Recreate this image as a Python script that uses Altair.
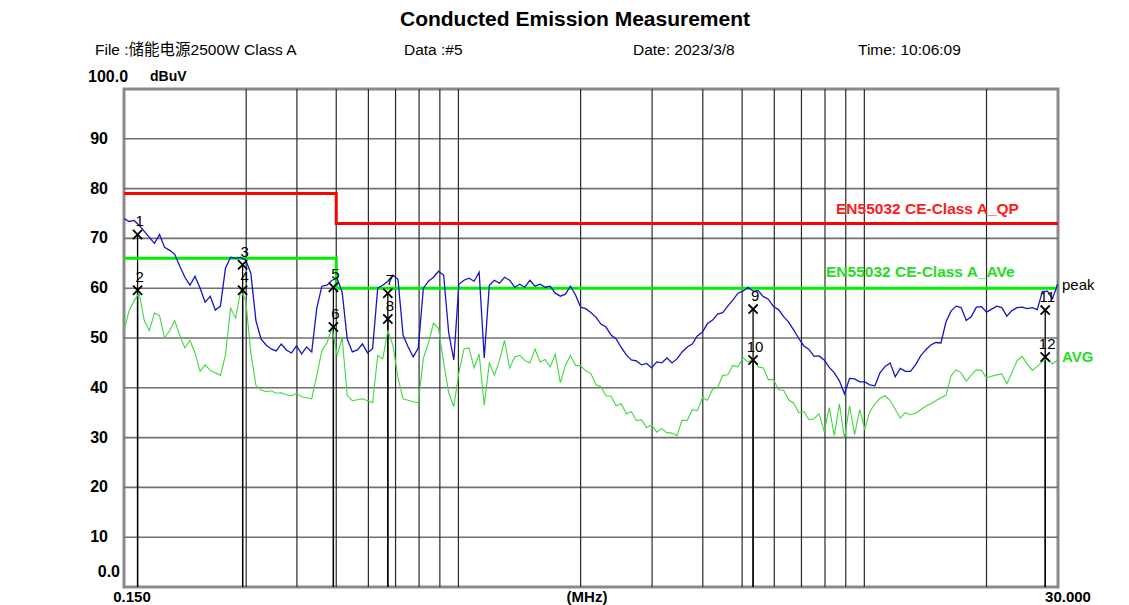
import altair as alt
import pandas as pd

# Sweep frequencies (MHz), log-spaced scan points
FREQ_MHZ = [
    0.1500, 0.1544, 0.1589, 0.1635, 0.1683, 0.1732, 0.1783, 0.1835, 0.1888, 0.1944,
    0.2000, 0.2059, 0.2119, 0.2181, 0.2244, 0.2310, 0.2377, 0.2447, 0.2518, 0.2592,
    0.2667, 0.2745, 0.2825, 0.2908, 0.2993, 0.3080, 0.3170, 0.3263, 0.3358, 0.3456,
    0.3557, 0.3661, 0.3768, 0.3878, 0.3991, 0.4108, 0.4228, 0.4351, 0.4478, 0.4609,
    0.4743, 0.4882, 0.5025, 0.5171, 0.5322, 0.5478, 0.5638, 0.5802, 0.5972, 0.6146,
    0.6326, 0.6510, 0.6700, 0.6896, 0.7097, 0.7305, 0.7518, 0.7737, 0.7963, 0.8196,
    0.8435, 0.8681, 0.8935, 0.9196, 0.9464, 0.9741, 1.0025, 1.0318, 1.0619, 1.0929,
    1.1248, 1.1577, 1.1915, 1.2263, 1.2621, 1.2989, 1.3369, 1.3759, 1.4161, 1.4574,
    1.500, 1.544, 1.589, 1.635, 1.683, 1.732, 1.783, 1.835, 1.888, 1.944,
    2.000, 2.059, 2.119, 2.181, 2.244, 2.310, 2.377, 2.447, 2.518, 2.592,
    2.667, 2.745, 2.825, 2.908, 2.993, 3.080, 3.170, 3.263, 3.358, 3.456,
    3.557, 3.661, 3.768, 3.878, 3.991, 4.108, 4.228, 4.351, 4.478, 4.609,
    4.743, 4.882, 5.025, 5.171, 5.322, 5.478, 5.638, 5.802, 5.972, 6.146,
    6.326, 6.510, 6.700, 6.896, 7.097, 7.305, 7.518, 7.737, 7.963, 8.196,
    8.435, 8.681, 8.935, 9.196, 9.464, 9.741, 10.025, 10.318, 10.619, 10.929,
    11.248, 11.577, 11.915, 12.263, 12.621, 12.989, 13.369, 13.759, 14.161, 14.574,
    15.00, 15.44, 15.89, 16.35, 16.83, 17.32, 17.83, 18.35, 18.88, 19.44,
    20.00, 20.59, 21.19, 21.81, 22.44, 23.10, 23.77, 24.47, 25.18, 25.92,
    26.67, 27.45, 28.25, 29.08, 29.93,
]

# Peak detector trace (dBuV)
PEAK_DBUV = [
    74.0, 73.4, 73.6, 72.6, 71.4, 70.2, 69.0, 70.8, 68.2, 67.6,
    66.8, 64.4, 62.2, 60.6, 62.4, 60.0, 57.2, 58.4, 55.6, 56.4,
    64.0, 66.2, 66.0, 66.2, 65.6, 63.0, 53.5, 49.8, 48.6, 47.8,
    47.4, 48.8, 47.6, 47.0, 48.4, 46.8, 48.2, 47.2, 56.0, 60.4,
    60.6, 61.6, 62.0, 59.2, 49.8, 47.2, 47.6, 48.8, 47.0, 47.9,
    60.0, 60.6, 61.4, 62.6, 61.8, 50.6, 48.2, 46.2, 48.0, 60.0,
    61.4, 62.2, 63.4, 62.6, 51.0, 45.6, 60.8, 61.6, 62.0, 61.4,
    63.2, 46.0, 60.6, 61.6, 61.0, 62.2, 61.6, 60.2, 60.8, 60.2,
    61.6, 60.4, 60.8, 60.2, 60.4, 59.0, 58.4, 58.8, 60.4, 58.6,
    56.2, 55.9, 55.1, 54.2, 52.8, 52.2, 50.6, 49.8, 48.1, 46.6,
    45.6, 45.4, 44.6, 44.9, 44.0, 45.2, 45.0, 46.0, 45.0, 45.8,
    47.2, 48.2, 48.8, 50.4, 51.2, 52.9, 53.6, 54.8, 55.1, 56.4,
    57.6, 59.0, 59.4, 60.2, 59.4, 59.5, 58.3, 57.8, 56.3, 55.7,
    54.3, 53.2, 51.6, 49.9, 48.4, 47.7, 46.3, 46.4, 45.6, 44.1,
    43.0, 41.4, 38.8, 41.9, 41.8, 41.2, 41.2, 40.6, 40.4, 43.0,
    44.3, 45.0, 42.2, 43.9, 43.3, 43.3, 44.6, 46.4, 47.6, 48.6,
    49.1, 49.0, 53.2, 55.4, 56.4, 56.1, 53.5, 54.3, 56.2, 56.3,
    55.2, 55.8, 56.4, 56.1, 54.4, 55.5, 56.1, 56.2, 55.9, 56.1,
    55.7, 59.3, 59.4, 57.9, 60.8,
]

# Average detector trace (dBuV)
AVG_DBUV = [
    51.5, 55.5, 57.5, 59.0, 53.5, 51.5, 55.0, 54.5, 50.0, 51.5,
    53.5, 50.5, 48.0, 49.5, 47.0, 43.3, 44.6, 43.5, 43.0, 42.5,
    46.5, 56.0, 54.0, 59.5, 57.5, 47.0, 40.5, 39.6, 39.2, 39.4,
    38.9, 39.0, 38.6, 38.4, 38.9, 38.2, 38.0, 37.8, 42.5, 47.5,
    49.0, 52.0, 46.5, 50.0, 38.5, 37.4, 37.6, 37.8, 37.4, 37.0,
    46.5, 45.8, 51.5, 48.5, 42.0, 37.8, 37.5, 37.2, 37.0, 45.9,
    49.0, 53.0, 51.9, 45.0, 39.0, 36.2, 43.0, 47.8, 48.0, 44.0,
    46.8, 36.5, 45.0, 42.5, 45.5, 49.5, 44.0, 46.2, 46.5, 45.5,
    45.0, 47.8, 45.2, 45.7, 44.2, 46.8, 41.0, 44.5, 46.5, 44.5,
    44.4, 43.4, 42.9, 40.6, 40.2, 38.4, 38.3, 36.4, 36.8, 34.8,
    35.2, 33.4, 33.6, 32.0, 32.6, 31.1, 31.8, 31.0, 30.9, 30.4,
    33.5, 33.4, 35.6, 35.4, 38.0, 37.5, 39.7, 40.0, 42.5, 42.6,
    44.5, 44.2, 46.0, 45.2, 45.8, 44.2, 44.0, 41.6, 41.7, 39.6,
    39.5, 37.6, 36.9, 35.0, 35.2, 33.6, 33.8, 34.8, 31.2, 36.0,
    30.4, 36.8, 29.8, 36.4, 30.6, 35.6, 31.8, 35.2, 36.8, 37.9,
    38.4, 37.5, 35.7, 33.9, 35.0, 34.6, 34.9, 35.6, 36.3, 36.8,
    37.4, 38.0, 38.5, 42.4, 43.6, 43.0, 41.3, 42.6, 43.6, 43.5,
    42.0, 42.3, 42.6, 42.8, 40.8, 43.0, 45.4, 46.3, 44.8, 43.5,
    44.3, 45.3, 45.9, 44.8, 45.6,
]

# EN55032 Class A limits (step at 0.5 MHz)
LIMIT_FREQ = [0.15, 0.5, 0.5, 30.0]
QP_LIMIT = [79, 79, 73, 73]
AV_LIMIT = [66, 66, 60, 60]

# Measured markers
MARKER_NO = ["1", "2", "3", "4", "5", "6", "7", "8", "9", "10", "11", "12"]
MARKER_FREQ = [0.162, 0.162, 0.294, 0.294, 0.492, 0.492, 0.670, 0.670, 5.32, 5.32, 27.9, 27.9]
MARKER_LEVEL = [70.8, 59.6, 64.7, 59.6, 60.2, 52.2, 59.0, 53.8, 55.8, 45.6, 55.6, 46.2]

# Grid
GRID_FREQ = [0.3, 0.4, 0.5, 0.6, 0.7, 0.8, 0.9, 1, 2, 3, 4, 5, 6, 7, 8, 9, 10, 20]
GRID_LEVEL = [10, 20, 30, 40, 50, 60, 70, 80, 90]
Y_TICK_TEXT = ["10", "20", "30", "40", "50", "60", "70", "80", "90"]

FONT = "Liberation Sans, Arial, Noto Sans CJK SC, sans-serif"

W, H = 934, 498
xs = alt.Scale(type="log", domain=[0.15, 30], nice=False, zero=False)
ys = alt.Scale(domain=[0, 100], nice=False, zero=False)

traces = pd.DataFrame({"f": FREQ_MHZ, "peak": PEAK_DBUV, "avg": AVG_DBUV})
limits = pd.DataFrame({"f": LIMIT_FREQ, "qp": QP_LIMIT, "av": AV_LIMIT,
                       "i": list(range(len(LIMIT_FREQ)))})
markers = pd.DataFrame({"no": MARKER_NO, "f": MARKER_FREQ, "v": MARKER_LEVEL})
vgrid = pd.DataFrame({"f": GRID_FREQ})
hgrid = pd.DataFrame({"v": GRID_LEVEL, "t": Y_TICK_TEXT})

X = lambda field: alt.X(field, type="quantitative", scale=xs, axis=None)
Y = lambda field: alt.Y(field, type="quantitative", scale=ys, axis=None)

h_lines = alt.Chart(hgrid).mark_rule(color="#707070", strokeWidth=1.6).encode(y=Y("v"))
v_lines = alt.Chart(vgrid).mark_rule(color="#2a2a2a", strokeWidth=1.2).encode(x=X("f"))

marker_lines = alt.Chart(markers).mark_rule(color="#000000", strokeWidth=1.3).encode(
    x=X("f"), y=Y("v"), y2=alt.datum(0)
)

qp_line = alt.Chart(limits).mark_line(color="#ff0000", strokeWidth=3).encode(
    x=X("f"), y=Y("qp"), order="i:Q"
)
av_line = alt.Chart(limits).mark_line(color="#00ee00", strokeWidth=3).encode(
    x=X("f"), y=Y("av"), order="i:Q"
)

avg_trace = alt.Chart(traces).mark_line(color="#3fd83f", strokeWidth=1.1).encode(
    x=X("f"), y=Y("avg")
)
peak_trace = alt.Chart(traces).mark_line(color="#1414c8", strokeWidth=1.3).encode(
    x=X("f"), y=Y("peak")
)

x_marks = alt.Chart(markers).mark_point(
    shape="M-1,-1L1,1M-1,1L1,-1", filled=False, color="#000000", strokeWidth=1.8,
    size=85, opacity=1
).encode(x=X("f"), y=Y("v"))

x_nums = alt.Chart(markers).mark_text(
    font=FONT, fontSize=15, color="#000000", dy=-13, dx=2
).encode(x=X("f"), y=Y("v"), text="no:N")

y_labels = alt.Chart(hgrid).mark_text(
    font=FONT, fontSize=16, fontWeight="bold", align="right", baseline="middle",
    color="#000000"
).encode(y=Y("v"), x=alt.value(-16), text="t:N")


def label(text, x, y, size=15, weight="normal", color="#000000", align="left"):
    return alt.Chart(alt.Data(values=[{"t": text}])).mark_text(
        font=FONT, fontSize=size, fontWeight=weight, color=color, align=align,
        baseline="middle"
    ).encode(x=alt.value(x), y=alt.value(y), text="t:N")


texts = [
    label("Conducted Emission Measurement", 451, -69, size=21, weight="bold", align="center"),
    label("File :储能电源2500W Class A", -29, -39, size=15.5),
    label("Data :#5", 280, -39, size=15.5),
    label("Date: 2023/3/8", 509, -39, size=15.5),
    label("Time: 10:06:09", 734, -39, size=15.5),
    label("100.0", -36, -12, size=16, weight="bold"),
    label("dBuV", 26, -12, size=14, weight="bold"),
    label("0.0", -4, 483, size=16, weight="bold", align="right"),
    label("0.150", 8, 508, size=15, weight="bold", align="center"),
    label("(MHz)", 463, 508, size=15, weight="bold", align="center"),
    label("30.000", 944, 508, size=15, weight="bold", align="center"),
    label("EN55032 CE-Class A_QP", 712, 120, size=15.5, weight="bold", color="#ff1a1a"),
    label("EN55032 CE-Class A_AVe", 702, 183, size=15.5, weight="bold", color="#22dd22"),
    label("peak", 938, 196, size=15),
    label("AVG", 938, 268, size=15, weight="bold", color="#22dd22"),
]

chart = alt.layer(
    h_lines, v_lines, marker_lines, qp_line, av_line, avg_trace, peak_trace,
    x_marks, x_nums, y_labels, *texts
).properties(
    width=W, height=H,
    padding={"left": 124, "top": 89, "right": 71, "bottom": 18},
    autosize="none",
    background="#ffffff",
).configure_view(stroke="#8a8a8a", strokeWidth=3)

chart.save("out.html", embed_options={"renderer": "svg", "actions": False})
